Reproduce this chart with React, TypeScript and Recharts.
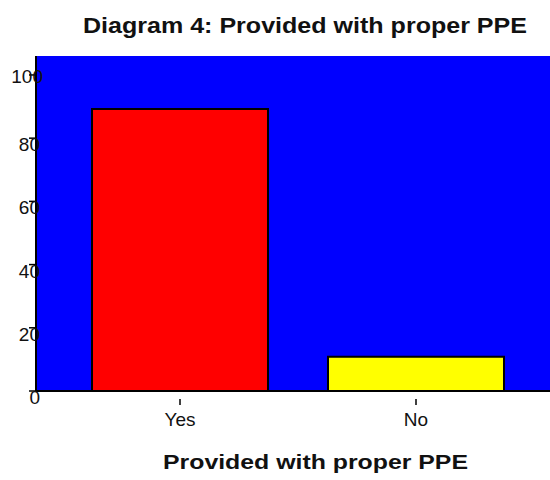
import { BarChart, Bar, Cell, XAxis, YAxis } from 'recharts';

const categories = ['Yes', 'No'];
const percentages = [89.2, 10.8];
const barColors = ['#ff0000', '#ffff00'];
const yTicks = [0, 20, 40, 60, 80, 100];

const data = categories.map((name, i) => ({ name, value: percentages[i], color: barColors[i] }));

const FONT = '"Liberation Sans", Arial, sans-serif';

// y labels sit a bit below their tick, except the top one
function YTick({ x, y, payload }: any) {
  const top = payload.value >= 100;
  return (
    <g>
      <line x1={x} y1={y} x2={x + 7} y2={y} stroke="#000" strokeWidth={1.5} />
      <text
        x={x + (top ? 14 : 11)}
        y={y + (top ? 8 : 13)}
        textAnchor="end"
        fontSize={19}
        fontFamily={FONT}
        fill="#111"
      >
        {payload.value}
      </text>
    </g>
  );
}

function XTick({ x, y, payload }: any) {
  return (
    <g>
      <line x1={x} y1={y} x2={x} y2={y + 6} stroke="#000" strokeWidth={1.5} />
      <text x={x} y={y + 27} textAnchor="middle" fontSize={19} fontFamily={FONT} fill="#111">
        {payload.value}
      </text>
    </g>
  );
}

export default function App() {
  return (
    <div
      style={{
        position: 'absolute',
        left: 0,
        top: 0,
        width: 550,
        height: 480,
        overflow: 'hidden',
        background: '#fff',
      }}
    >
      {/* blue plot background sits under the chart so axis labels draw over it */}
      <div
        style={{ position: 'absolute', left: 36, top: 56, width: 524, height: 335, background: '#0000ff' }}
      />
      <svg width={550} height={480} style={{ position: 'absolute', left: 0, top: 0 }}>
        <text
          x={83}
          y={33}
          fontSize={22}
          fontWeight="bold"
          fontFamily={FONT}
          fill="#111"
          textLength={444}
          lengthAdjust="spacingAndGlyphs"
        >
          Diagram 4: Provided with proper PPE
        </text>
        <text
          x={163}
          y={469}
          fontSize={20}
          fontWeight="bold"
          fontFamily={FONT}
          fill="#111"
          textLength={305}
          lengthAdjust="spacingAndGlyphs"
        >
          Provided with proper PPE
        </text>
      </svg>
      <div style={{ position: 'absolute', left: 0, top: 0 }}>
        <BarChart
          width={560}
          height={480}
          data={data}
          margin={{ top: 56, right: 0, bottom: 0, left: 0 }}
          barCategoryGap={30}
          style={{ overflow: 'visible' }}
        >
          <XAxis
            xAxisId="top"
            orientation="top"
            dataKey="name"
            height={0}
            tick={false}
            tickLine={false}
            axisLine={{ stroke: '#000', strokeWidth: 2.5 }}
            padding={{ left: 26, right: 26 }}
          />
          <XAxis
            dataKey="name"
            height={89}
            tick={<XTick />}
            tickLine={false}
            axisLine={{ stroke: '#000', strokeWidth: 2 }}
            padding={{ left: 26, right: 26 }}
          />
          <YAxis
            width={36}
            domain={[0, 106]}
            ticks={yTicks}
            interval={0}
            tick={<YTick />}
            tickLine={false}
            tickSize={7}
            tickMargin={0}
            axisLine={{ stroke: '#000', strokeWidth: 2 }}
          />
          <Bar dataKey="value" stroke="#000" strokeWidth={2} isAnimationActive={false}>
            {data.map((d, i) => (
              <Cell key={i} fill={d.color} />
            ))}
          </Bar>
        </BarChart>
      </div>
    </div>
  );
}
